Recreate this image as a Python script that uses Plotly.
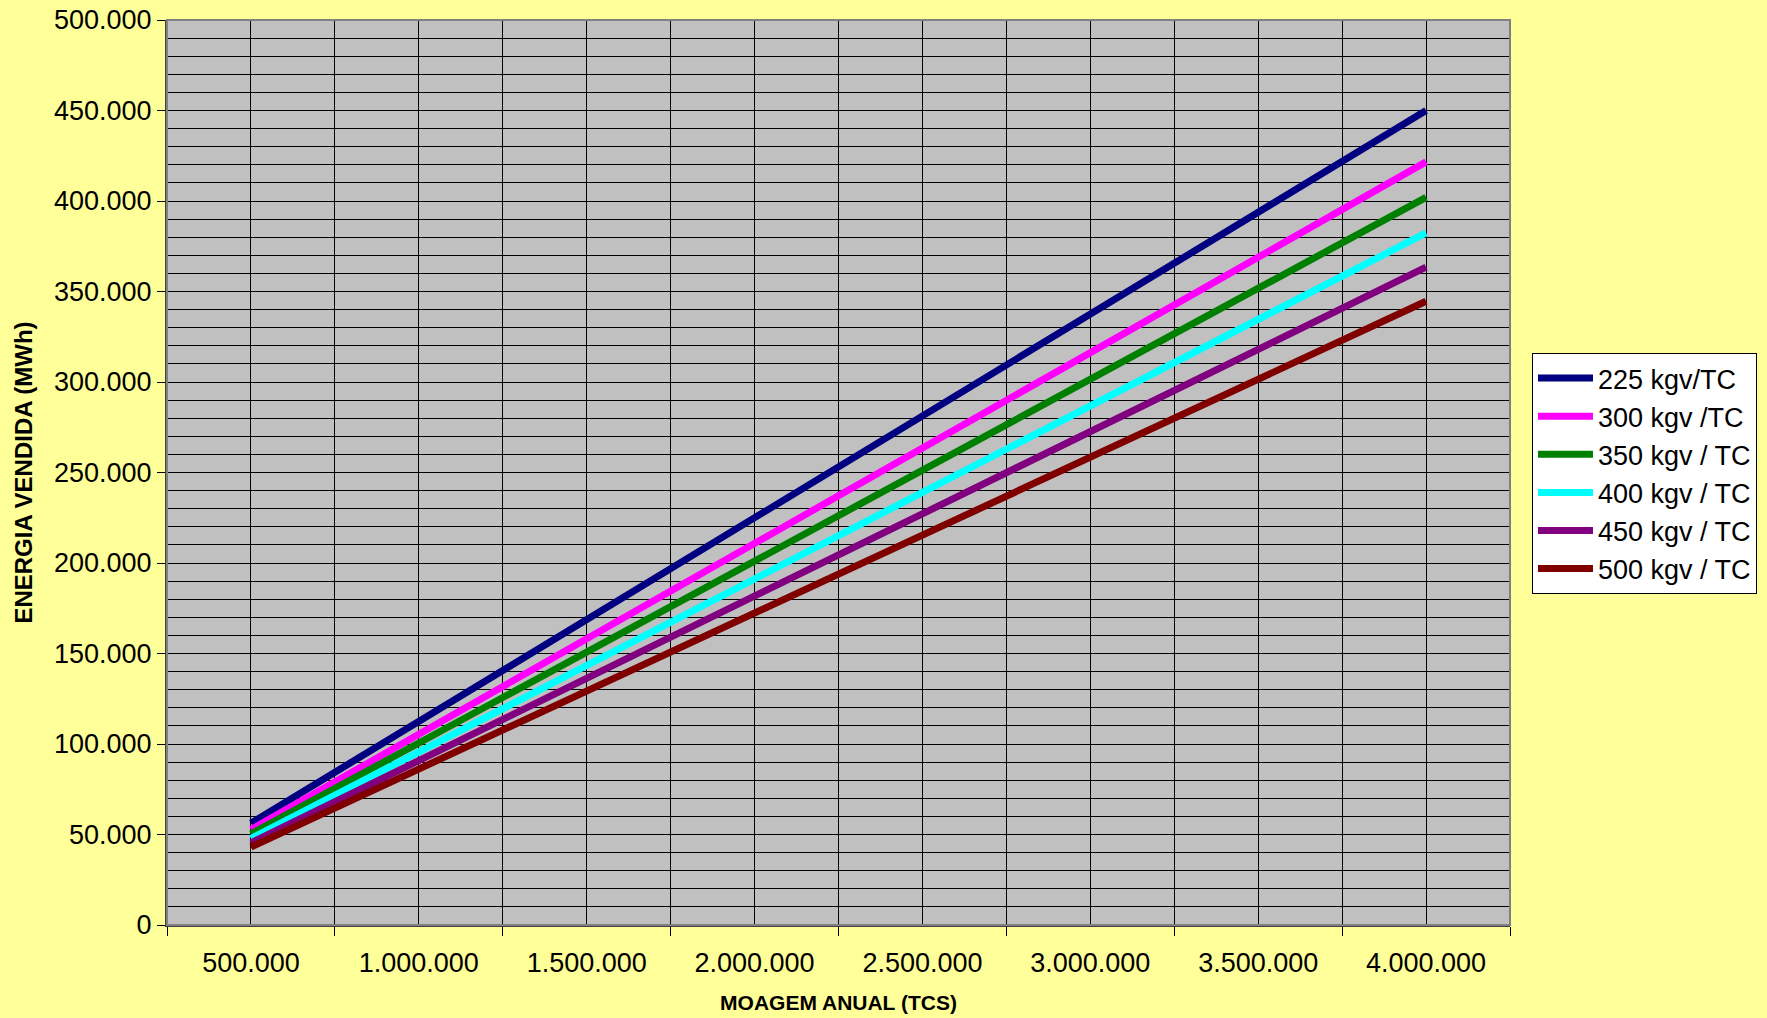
import plotly.graph_objects as go

# ---- data ----
moagem = [500000, 1000000, 1500000, 2000000, 2500000, 3000000, 3500000, 4000000]

serie_225 = [56250, 112500, 168750, 225000, 281250, 337500, 393750, 450000]
serie_300 = [52700, 105400, 158100, 210800, 263500, 316200, 368900, 421600]
serie_350 = [50300, 100500, 150800, 201000, 251300, 301500, 351800, 402000]
serie_400 = [47800, 95600, 143400, 191200, 239000, 286800, 334600, 382400]
serie_450 = [45400, 90900, 136300, 181700, 227200, 272600, 318000, 363500]
serie_500 = [43100, 86100, 129200, 172300, 215400, 258400, 301500, 344600]

nomes = ["225 kgv/TC", "300 kgv /TC", "350 kgv / TC",
         "400 kgv / TC", "450 kgv / TC", "500 kgv / TC"]
series = [serie_225, serie_300, serie_350, serie_400, serie_450, serie_500]
cores = ["#000080", "#FF00FF", "#008000", "#00FFFF", "#800080", "#800000"]

FONT = "Liberation Sans, Arial, sans-serif"

fig = go.Figure()
for nome, ys, cor in zip(nomes, series, cores):
    fig.add_trace(go.Scatter(x=moagem, y=ys, name=nome, mode="lines",
                             line=dict(color=cor, width=7)))

half = (moagem[1] - moagem[0]) / 2
bounds = [m - half for m in moagem] + [moagem[-1] + half]

fig.update_layout(
    width=1767, height=1018,
    margin=dict(l=167, r=257, t=20, b=93, autoexpand=False),
    paper_bgcolor="#FFFF99",
    plot_bgcolor="#C0C0C0",
    separators=",.",
    font=dict(family=FONT, color="black", size=27),
    showlegend=True,
    legend=dict(x=0.867, y=0.6532, xref="container", yref="container",
                xanchor="left", yanchor="top",
                bgcolor="white", bordercolor="black", borderwidth=1,
                itemwidth=55,
                font=dict(family=FONT, size=27, color="black")),
    xaxis=dict(
        range=[bounds[0], bounds[-1]], automargin=False,
        tickvals=moagem, tickformat=",d",
        ticks="", showgrid=True, gridcolor="black", gridwidth=1,
        zeroline=False, showline=True, linecolor="#404040", linewidth=2,
        tickfont=dict(family=FONT, size=27, color="black"),
        ticklabelstandoff=13,
        minor=dict(tickvals=bounds, showgrid=True, gridcolor="black",
                   gridwidth=1, ticks="outside", ticklen=9,
                   tickcolor="black", tickwidth=1),
        title=dict(text="<b>MOAGEM ANUAL (TCS)</b>", standoff=18,
                   font=dict(family=FONT, size=21, color="black")),
    ),
    yaxis=dict(
        range=[0, 500000], dtick=50000, tickformat=",d", automargin=False,
        ticks="outside", ticklen=8, tickcolor="black", tickwidth=1,
        showgrid=True, gridcolor="black", gridwidth=1,
        zeroline=False, showline=True, linecolor="#404040", linewidth=2,
        tickfont=dict(family=FONT, size=27, color="black"),
        minor=dict(dtick=10000, showgrid=True, gridcolor="black", gridwidth=1),
        title=dict(text="<b>ENERGIA VENDIDA (MWh)</b>", standoff=15,
                   font=dict(family=FONT, size=24, color="black")),
    ),
    shapes=[dict(type="rect", xref="paper", yref="paper", x0=0, y0=0, x1=1, y1=1,
                 line=dict(color="#808080", width=2), layer="above")],
)

fig.write_html("out.html", config={"displayModeBar": False},
               post_script="document.body.style.margin='0';document.body.style.overflow='hidden';")
